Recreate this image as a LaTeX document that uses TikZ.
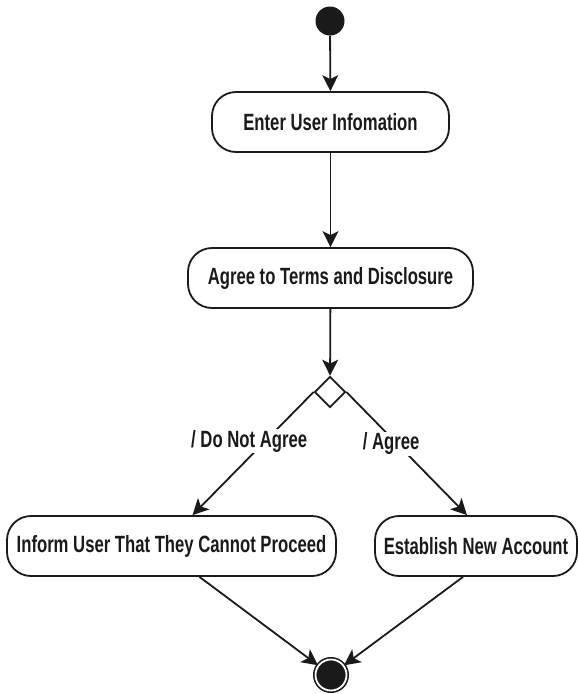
\documentclass[tikz,border=0pt]{standalone}
\usepackage{fontspec}
\setmainfont[FakeStretch=0.71]{Liberation Sans}
\usepackage{xcolor}
\usepackage{tikz}
\usetikzlibrary{arrows.meta,shapes.geometric}
\definecolor{ink}{HTML}{1A1A1A}
\tikzset{
  flow/.style={draw=ink, line width=1.8pt, -{Stealth[length=16pt, width=16pt, inset=4pt]}},
  act/.style={draw=ink, line width=1.8pt, rounded corners=24pt, fill=white,
    minimum height=60pt, inner sep=0pt, font=\fontsize{23.5}{26}\selectfont\bfseries, text=ink},
  choice/.style={draw=ink, line width=1.8pt, diamond, minimum size=31pt, inner sep=0pt, fill=white},
  startdot/.style={circle, fill=ink, minimum size=29pt, inner sep=0pt},
  enddot/.style={circle, draw=ink, line width=1.6pt, fill=ink, double=white, double distance=1.8pt,
    minimum size=31pt, inner sep=0pt},
  guard/.style={fill=white, inner sep=1pt, font=\fontsize{23.5}{26}\selectfont\bfseries, text=ink}
}
\begin{document}
\begin{tikzpicture}[x=1pt, y=1pt]
  \useasboundingbox (0,0) rectangle (578,-694);

  \node[startdot] (start) at (330,-21) {};
  \node[act, minimum width=237pt] (enter) at (330.5,-122) {Enter User Infomation};
  \node[act, minimum width=285pt] (agree) at (330.5,-278) {Agree to Terms and Disclosure};
  \node[choice] (dec) at (330,-392) {};
  \node[act, minimum width=329pt] (inform) at (171.5,-546) {Inform User That They Cannot Proceed};
  \node[act, minimum width=202pt] (estab) at (476,-546) {Establish New Account};
  \node[enddot] (end) at (331,-675) {};

  \draw[flow] (start) -- (enter);
  \draw[flow] (enter) -- (agree);
  \draw[flow] (agree) -- (dec);
  \draw[flow] (dec.west) -- ([xshift=21pt]inform.north)
    node[guard, pos=0.4, xshift=-16pt] {/ Do Not Agree};
  \draw[flow] (dec.east) -- ([xshift=-9pt]estab.north)
    node[guard, pos=0.42, xshift=-6pt] {/ Agree};
  \draw[flow] ([xshift=28pt]inform.south) -- (end);
  \draw[flow] ([xshift=-13pt]estab.south) -- (end);
\end{tikzpicture}
\end{document}
